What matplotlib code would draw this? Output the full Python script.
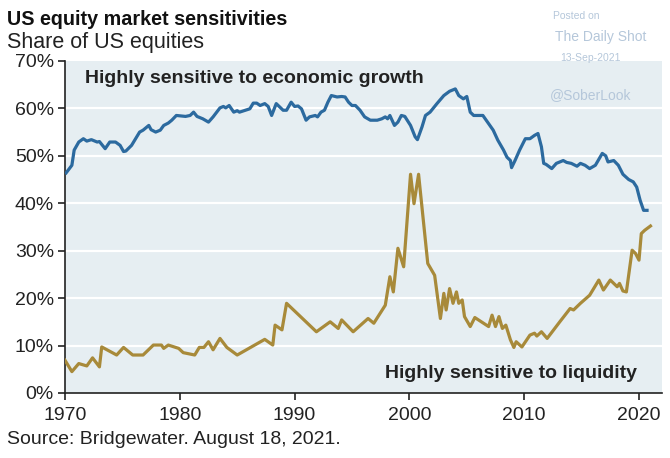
import matplotlib
matplotlib.use("Agg")
import matplotlib.pyplot as plt
from matplotlib.ticker import FuncFormatter

plt.rcParams['font.family'] = ['Liberation Sans', 'DejaVu Sans']

# share of US equities highly sensitive to economic growth (%)
growth_years = [1970.1, 1970.6, 1970.8, 1971.2, 1971.6, 1971.9, 1972.3, 1972.8, 1973.0, 1973.5,
                1973.9, 1974.4, 1974.8, 1975.1, 1975.3, 1975.8, 1976.2, 1976.5, 1976.8, 1977.3,
                1977.5, 1977.9, 1978.3, 1978.6, 1979.0, 1979.3, 1979.7, 1980.5, 1980.9, 1981.2,
                1981.5, 1982.0, 1982.5, 1982.9, 1983.5, 1983.8, 1984.0, 1984.3, 1984.7, 1985.0,
                1985.2, 1985.7, 1986.1, 1986.4, 1986.7, 1987.0, 1987.4, 1987.7, 1988.0, 1988.4,
                1988.7, 1989.0, 1989.3, 1989.7, 1990.0, 1990.3, 1990.6, 1991.0, 1991.3, 1991.8,
                1992.0, 1992.3, 1992.6, 1992.9, 1993.2, 1993.7, 1994.1, 1994.4, 1994.7, 1995.0,
                1995.3, 1995.7, 1996.1, 1996.6, 1997.2, 1997.6, 1997.9, 1998.1, 1998.3, 1998.7,
                1999.0, 1999.3, 1999.6, 2000.1, 2000.5, 2000.7, 2001.1, 2001.4, 2001.8, 2002.4,
                2003.0, 2003.5, 2004.0, 2004.3, 2004.7, 2005.0, 2005.3, 2005.6, 2006.4, 2006.9,
                2007.3, 2007.7, 2008.2, 2008.5, 2008.8, 2008.9, 2009.2, 2009.6, 2010.1, 2010.5,
                2010.9, 2011.2, 2011.5, 2011.7, 2011.9, 2012.4, 2012.8, 2013.4, 2013.7, 2014.1,
                2014.6, 2014.9, 2015.3, 2015.7, 2016.2, 2016.8, 2017.1, 2017.3, 2017.8, 2018.2,
                2018.6, 2019.1, 2019.5, 2019.8, 2020.1, 2020.4, 2020.7]
growth_share = [46.4, 48.0, 51.2, 52.9, 53.6, 53.1, 53.4, 52.9, 53.0, 51.5,
                52.9, 52.9, 52.2, 50.9, 51.0, 52.2, 53.8, 55.0, 55.4, 56.4,
                55.5, 55.0, 55.4, 56.4, 56.9, 57.5, 58.5, 58.3, 58.5, 59.2,
                58.3, 57.8, 57.1, 58.2, 60.1, 60.4, 60.1, 60.6, 59.2, 59.5,
                59.2, 59.6, 59.9, 61.1, 61.1, 60.6, 61.0, 60.4, 58.5, 61.0,
                60.3, 59.6, 59.6, 61.3, 60.4, 60.5, 59.9, 57.5, 58.2, 58.5,
                58.2, 59.2, 59.6, 61.3, 62.7, 62.4, 62.5, 62.4, 61.3, 60.6,
                60.6, 59.6, 58.2, 57.5, 57.5, 57.8, 58.2, 57.8, 58.5, 56.4,
                57.1, 58.5, 58.3, 56.4, 54.0, 53.4, 56.1, 58.5, 59.2, 61.0,
                62.7, 63.6, 64.1, 62.7, 62.0, 62.5, 59.2, 58.5, 58.5, 56.8,
                55.4, 53.3, 51.2, 49.7, 49.0, 47.5, 49.0, 51.2, 53.6, 53.6,
                54.3, 54.7, 51.9, 48.4, 48.2, 47.3, 48.4, 49.0, 48.6, 48.4,
                47.8, 48.4, 48.0, 47.3, 48.0, 50.5, 50.0, 48.7, 49.0, 48.0,
                46.1, 45.0, 44.5, 43.4, 40.6, 38.5, 38.5]

# share of US equities highly sensitive to liquidity (%)
liquidity_years = [1970.0, 1970.6, 1971.2, 1971.9, 1972.4, 1973.0, 1973.2, 1974.5, 1975.1, 1975.9,
                   1976.8, 1977.7, 1978.4, 1978.6, 1979.0, 1979.9, 1980.3, 1981.3, 1981.7, 1982.1,
                   1982.5, 1982.9, 1983.5, 1984.1, 1985.0, 1987.4, 1988.1, 1988.3, 1988.9, 1989.3,
                   1991.9, 1993.1, 1993.8, 1994.1, 1995.1, 1996.4, 1996.9, 1997.9, 1998.3, 1998.6,
                   1999.0, 1999.5, 2000.1, 2000.4, 2000.8, 2001.6, 2002.2, 2002.7, 2003.0, 2003.2,
                   2003.5, 2003.8, 2004.1, 2004.3, 2004.6, 2004.8, 2005.3, 2005.7, 2006.9, 2007.2,
                   2007.5, 2007.8, 2008.1, 2008.4, 2008.8, 2009.1, 2009.3, 2009.8, 2010.5, 2010.9,
                   2011.1, 2011.5, 2012.0, 2013.1, 2014.0, 2014.3, 2014.9, 2015.7, 2016.5, 2016.9,
                   2017.5, 2018.1, 2018.3, 2018.6, 2018.9, 2019.4, 2019.7, 2020.0, 2020.2, 2020.5,
                   2021.0]
liquidity_share = [6.9, 4.5, 6.2, 5.7, 7.4, 5.5, 9.7, 8.0, 9.6, 8.0,
                   8.0, 10.1, 10.1, 9.4, 10.1, 9.4, 8.5, 8.0, 9.6, 9.6,
                   10.8, 9.1, 11.5, 9.6, 8.0, 11.3, 10.1, 14.3, 13.3, 18.9,
                   12.9, 15.0, 13.6, 15.4, 12.9, 15.7, 14.7, 18.5, 24.5, 21.3,
                   30.5, 26.6, 46.1, 39.9, 46.1, 27.3, 24.8, 15.7, 21.0, 17.5,
                   22.0, 18.9, 21.3, 18.9, 19.6, 16.1, 14.0, 15.9, 14.0, 16.4,
                   14.0, 16.1, 13.6, 14.3, 11.2, 9.6, 10.8, 9.7, 12.2, 12.6,
                   12.0, 12.9, 11.5, 15.0, 17.8, 17.5, 18.9, 20.6, 23.8, 21.7,
                   23.8, 22.4, 23.1, 21.5, 21.3, 30.1, 29.4, 28.0, 33.6, 34.3,
                   35.2]

x_ticks = [1970, 1980, 1990, 2000, 2010, 2020]
y_ticks = [0, 10, 20, 30, 40, 50, 60, 70]

BLUE = '#2c6a9f'
GOLD = '#a88a3a'
WM = '#b5c7da'

fig = plt.figure(figsize=(6.7, 4.58), dpi=100)
ax = fig.add_axes([0.097, 0.142, 0.891, 0.725])
ax.set_facecolor('#e6eef2')

for v in y_ticks[1:-1]:
    ax.axhline(v, color='white', lw=1.6, zorder=1)

ax.plot(growth_years, growth_share, color=BLUE, lw=2.3, zorder=3, solid_joinstyle='round')
ax.plot(liquidity_years, liquidity_share, color=GOLD, lw=2.3, zorder=3, solid_joinstyle='round')

ax.set_xlim(1970, 2022)
ax.set_ylim(0, 70)
ax.set_xticks(x_ticks)
ax.set_yticks(y_ticks)
ax.yaxis.set_major_formatter(FuncFormatter(lambda v, p: f'{v:.0f}%'))
ax.tick_params(axis='both', labelsize=14, colors='#222222', length=5, width=1.2, pad=3)
ax.tick_params(axis='x', pad=5)
for s in ['top', 'right']:
    ax.spines[s].set_visible(False)
for s in ['left', 'bottom']:
    ax.spines[s].set_color('#222222')
    ax.spines[s].set_linewidth(1.2)

ax.text(1971.7, 66.2, 'Highly sensitive to economic growth', fontsize=14, fontweight='bold',
        color='#222222', va='center', ha='left')
ax.text(2019.8, 4.2, 'Highly sensitive to liquidity', fontsize=14, fontweight='bold',
        color='#222222', va='center', ha='right')

fig.text(0.010, 0.958, 'US equity market sensitivities', fontsize=14.2, fontweight='bold',
         color='#111111', va='center')
fig.text(0.010, 0.908, 'Share of US equities', fontsize=15.5, color='#222222', va='center')
fig.text(0.010, 0.040, 'Source: Bridgewater. August 18, 2021.', fontsize=14,
         color='#222222', va='center')

fig.text(0.826, 0.965, 'Posted on', fontsize=7.5, color=WM, va='center')
fig.text(0.828, 0.920, 'The Daily Shot', fontsize=10, color=WM, va='center')
fig.text(0.836, 0.873, '13-Sep-2021', fontsize=7.5, color=WM, va='center')
fig.text(0.820, 0.792, '@SoberLook', fontsize=10, color=WM, va='center')

fig.savefig('out.png', dpi=100, facecolor='white')
